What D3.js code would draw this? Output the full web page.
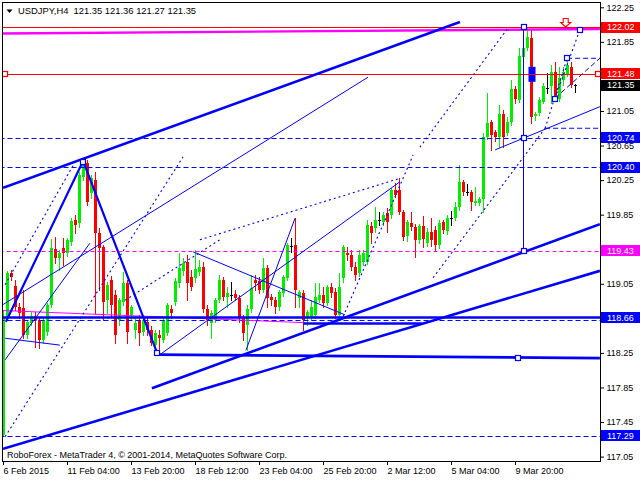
<!DOCTYPE html>
<html><head><meta charset="utf-8">
<script src="https://cdnjs.cloudflare.com/ajax/libs/d3/7.8.5/d3.min.js"></script>
<style>
body{margin:0;background:#fff}
svg{display:block}
text{font-family:"Liberation Sans",Arial,sans-serif}
</style>
</head><body>
<svg id="c" width="640" height="480"></svg>
<script>
// ---------------- DATA ----------------
const symbol = "USDJPY,H4";
const lastQuote = [121.35, 121.36, 121.27, 121.35];
const footerText = "RoboForex - MetaTrader 4, \u00A9 2001-2014, MetaQuotes Software Corp.";
const timeLabels = ["6 Feb 2015","11 Feb 04:00","13 Feb 20:00","18 Feb 12:00","23 Feb 04:00","25 Feb 20:00","2 Mar 12:00","5 Mar 04:00","9 Mar 20:00"];
const timeTickBars = [0,16,32,48,64,80,96,112,128];
const priceTicks = [122.25,121.85,121.45,121.05,120.65,120.25,119.85,119.45,119.05,118.65,118.25,117.85,117.45,117.05];

const opens = [117.30,118.67,119.18,119.02,118.78,118.77,118.46,118.60,118.68,118.63,
118.40,118.49,118.80,119.45,119.35,119.46,119.41,119.53,119.79,119.75,
120.29,120.45,120.10,120.25,119.64,119.48,118.86,119.09,118.92,118.63,
118.84,119.06,118.69,118.52,118.63,118.49,118.61,118.52,118.34,118.46,
118.40,118.48,118.76,118.84,119.06,119.20,119.30,119.13,119.12,119.19,
119.24,118.76,118.60,118.63,118.86,119.09,118.90,118.92,118.93,118.89,
118.65,118.57,118.76,119.09,119.08,118.98,119.23,118.90,118.86,118.78,
118.94,119.12,119.49,119.50,118.89,118.94,118.65,118.67,118.69,118.86,
118.92,118.83,119.01,118.96,118.69,119.12,119.41,119.38,119.24,119.18,
119.30,119.30,119.72,119.70,119.79,119.77,119.87,119.85,120.14,120.14,
119.88,119.60,119.75,119.71,119.56,119.72,119.52,119.65,119.67,119.50,
119.77,119.66,119.81,119.81,119.94,120.23,120.11,120.11,119.98,119.99,
120.03,120.75,120.92,120.81,120.75,121.02,120.80,120.92,121.30,121.18,
121.68,121.78,121.90,120.99,121.03,121.15,121.32,121.34,121.50,121.19,
121.41,121.48,121.56,121.35];
const highs = [118.75,119.20,119.21,119.09,118.83,118.98,118.63,118.72,118.72,118.65,
118.65,118.83,119.57,119.59,119.44,119.58,119.58,119.81,119.85,120.34,
120.49,120.48,120.31,120.34,119.70,119.50,119.07,119.14,118.98,118.89,
119.19,119.09,118.80,118.67,118.69,118.65,118.65,118.56,118.52,118.52,
118.65,118.83,118.80,119.12,119.41,119.35,119.38,119.21,119.44,119.33,
119.30,118.80,118.75,118.89,119.15,119.13,119.01,119.07,118.98,118.92,
118.69,118.80,119.15,119.15,119.13,119.35,119.27,118.93,118.90,118.98,
119.15,119.52,119.58,119.81,118.98,118.98,118.75,118.86,119.06,119.06,
119.01,119.04,119.06,119.00,119.18,119.50,119.48,119.44,119.30,119.44,
119.44,119.79,119.77,119.94,119.88,119.88,119.93,120.16,120.22,120.27,
119.90,119.79,119.88,119.74,119.74,119.83,119.70,119.81,119.72,119.79,
119.79,119.85,119.89,120.00,120.43,120.25,120.20,120.14,120.17,120.05,
120.79,121.26,120.95,120.83,121.12,121.06,120.98,121.41,121.34,121.78,
122.02,121.99,121.99,121.04,121.21,121.37,121.49,121.58,121.62,121.56,
121.56,121.68,121.62,121.36];
const lows = [117.29,118.63,119.09,118.75,118.65,118.42,118.42,118.57,118.32,118.31,
118.37,118.46,118.78,119.29,119.21,119.27,119.37,119.50,119.64,119.71,
120.25,119.96,120.04,118.71,118.98,118.63,118.71,118.67,118.37,118.57,
118.80,118.37,118.63,118.42,118.34,118.46,118.46,118.34,118.25,118.28,
118.38,118.46,118.65,118.80,119.01,119.15,118.86,118.98,119.07,119.15,
118.72,118.57,118.42,118.61,118.84,118.86,118.78,118.86,118.86,118.61,
118.40,118.28,118.72,118.98,118.94,118.96,118.78,118.80,118.71,118.75,
118.91,119.09,119.42,118.78,118.78,118.52,118.57,118.63,118.65,118.84,
118.78,118.80,118.90,118.65,118.65,119.07,119.33,119.21,119.09,119.14,
119.27,119.28,119.52,119.65,119.73,119.73,119.65,119.81,120.05,119.86,
119.56,119.55,119.67,119.36,119.52,119.48,119.49,119.49,119.44,119.46,
119.64,119.63,119.73,119.79,119.90,120.08,120.08,119.90,119.96,119.96,
119.88,120.73,120.60,120.70,120.63,120.63,120.77,120.89,121.14,121.15,
121.64,121.76,120.91,120.95,121.00,121.14,121.26,121.14,121.18,121.16,
121.35,121.45,121.33,121.27];
const closes = [118.66,119.18,119.13,118.78,118.71,118.46,118.61,118.68,118.63,118.40,
118.63,118.80,119.46,119.35,119.41,119.41,119.56,119.78,119.73,120.31,
120.46,120.00,120.27,119.64,119.46,118.84,119.04,118.80,118.46,118.86,
119.06,118.49,118.78,118.60,118.48,118.63,118.52,118.37,118.48,118.42,
118.63,118.80,118.71,119.08,119.23,119.29,119.06,119.01,119.22,119.24,
118.76,118.63,118.71,118.86,119.09,118.90,118.94,118.92,118.89,118.65,
118.48,118.76,119.00,119.06,118.98,119.23,118.89,118.86,118.78,118.96,
119.13,119.50,119.49,118.98,118.96,118.63,118.72,118.78,118.90,118.92,
118.83,119.01,118.94,118.69,119.01,119.48,119.38,119.24,119.15,119.38,
119.41,119.73,119.64,119.79,119.79,119.85,119.77,120.14,120.08,119.88,
119.59,119.77,119.71,119.56,119.72,119.57,119.65,119.56,119.50,119.75,
119.67,119.81,119.81,119.94,120.23,120.11,120.11,120.00,120.01,120.03,
120.75,120.91,120.77,120.75,121.02,120.75,120.92,121.30,121.19,121.69,
121.78,121.91,120.98,121.02,121.18,121.34,121.32,121.50,121.20,121.43,
121.50,121.58,121.35,121.35];

// labelled price levels on the right scale
const boxPrices = [122.02, 121.48, 121.35, 120.74, 120.40, 119.43, 118.66, 117.29];
// full-width horizontal levels
const redLevels = [122.02, 121.48];
const blueDashLevels = [120.74, 120.40, 118.63, 117.29];
const magentaDashLevels = [119.43];
// trend objects as [bar1, price1, bar2, price2]
const thickLines = [
  [-0.1,120.16,114.1,122.08],
  [37.1,117.84,149.1,119.74],
  [-0.1,117.14,149.1,119.20],
  [38.4,118.23,149.1,118.19],
  [74.9,118.59,104.6,118.59],
  [-1,118.66,150,118.66]
];
const zigzag = [[0.6,118.61],[19.9,120.47],[38.4,118.25]];
const thinLines = [
  [-0.1,118.81,91.1,121.44],
  [0.4,118.17,21.6,119.52],
  [0.4,118.42,14.1,118.34],
  [47.4,119.42,85.4,118.69],
  [60.6,118.28,72.9,119.81],
  [39.1,118.23,99.1,120.23],
  [122.9,120.60,149.1,121.10],
  [130,122.02,130,119.43]
];
const dottedLines = [
  [0.4,117.28,44.9,120.52],
  [0.4,119.04,17.9,120.46],
  [30.4,118.86,54.1,119.56],
  [49.1,119.56,99.1,120.27],
  [84.9,118.67,102.4,120.54],
  [104.1,120.63,126.1,122.01],
  [107.4,119.12,135.4,120.85],
  [135.4,120.85,140.9,121.66],
  [137.9,121.20,144.1,121.99]
];
const dashedLines = [
  [137.9,121.20,149.1,121.66],
  [140.9,121.66,150,121.66],
  [135.4,120.85,150,120.85]
];
const magentaThick = [-0.9,121.947,149.1,121.998];
const magentaThin = [-0.1,118.74,75.4,118.60];
const blueSquares = [[19.9,120.46],[38.4,118.25],[130,122.02],[130,120.74],[130,119.43],[137.9,121.19],[140.9,121.66],[144.1,121.99],[128.6,118.19]];
const redSquares = [[0.4,121.48],[148.6,121.48]];
const arrowPoint = [140.55,122.086];
const markerPoint = [132,121.48];

// ---------------- DRAWING ----------------
const svg = d3.select("#c");
const plot = {l:2.5, t:2.5, r:600.5, b:461.5};
const x = d3.scaleLinear().domain([0,143]).range([3.5,575.5]);
const y = d3.scaleLinear().domain([117.05,122.25]).range([456.6,7.3]);
const GREEN="#00ee00", RED="#ff0000", BLUE="#0000ff", MAG="#ff00ff";

svg.append("rect").attr("width",640).attr("height",480).attr("fill","#fff");
svg.append("defs").append("clipPath").attr("id","clip")
  .append("rect").attr("x",3).attr("y",3).attr("width",597).attr("height",458);

const g = svg.append("g").attr("clip-path","url(#clip)");

// candles
const idx = d3.range(opens.length);
const col = i => closes[i]>opens[i]?GREEN:(closes[i]<opens[i]?RED:"#000");
g.append("g").selectAll("line").data(idx).join("line")
  .attr("x1",i=>x(i)).attr("x2",i=>x(i))
  .attr("y1",i=>Math.round(y(highs[i]))).attr("y2",i=>Math.round(y(lows[i]))+1)
  .attr("stroke",col).attr("stroke-width",1).attr("shape-rendering","crispEdges");
g.append("g").selectAll("rect").data(idx).join("rect")
  .attr("x",i=>x(i)-1.5).attr("width",3)
  .attr("y",i=>Math.round(y(Math.max(opens[i],closes[i]))))
  .attr("height",i=>Math.max(1,Math.round(y(Math.min(opens[i],closes[i])))-Math.round(y(Math.max(opens[i],closes[i])))))
  .attr("fill",col).attr("shape-rendering","crispEdges");

// marker block
g.append("rect").attr("x",x(markerPoint[0])-3).attr("y",y(markerPoint[1])-7).attr("width",7).attr("height",15).attr("fill",BLUE);

function seg(sel, d, stroke, w, dash){
  const l = sel.append("line").attr("x1",x(d[0])).attr("y1",y(d[1])).attr("x2",x(d[2])).attr("y2",y(d[3]))
    .attr("stroke",stroke).attr("stroke-width",w);
  if(dash) l.attr("stroke-dasharray",dash);
  return l;
}
function hline(sel, p, stroke, w, dash){
  const yy = Math.round(y(p)) + 0.5;
  const l = sel.append("line").attr("x1",x(-1)).attr("x2",x(150)).attr("y1",yy).attr("y2",yy)
    .attr("stroke",stroke).attr("stroke-width",w);
  if(dash) l.attr("stroke-dasharray",dash);
  return l;
}
// horizontal levels
blueDashLevels.forEach(p=>hline(g,p,BLUE,1,"5,3"));
magentaDashLevels.forEach(p=>hline(g,p,MAG,1,"4,3"));
seg(g,magentaThin,MAG,1);
seg(g,magentaThick,MAG,2.4);
redLevels.forEach(p=>hline(g,p,RED,1));

thickLines.forEach(d=>seg(g,d,BLUE,2.6));
g.append("path").attr("d",d3.line().x(d=>x(d[0])).y(d=>y(d[1]))(zigzag))
  .attr("fill","none").attr("stroke",BLUE).attr("stroke-width",2.2);
thinLines.forEach(d=>seg(g,d,BLUE,1));
dottedLines.forEach(d=>seg(g,d,BLUE,1.1,"2,3"));
dashedLines.forEach(d=>seg(g,d,BLUE,1,"5,3"));

blueSquares.forEach(d=>g.append("rect").attr("x",Math.round(x(d[0]))-2.5).attr("y",Math.round(y(d[1]))-2.5)
  .attr("width",5).attr("height",5).attr("fill","#fff").attr("stroke",BLUE).attr("stroke-width",1.2));
redSquares.forEach(d=>g.append("rect").attr("x",Math.round(x(d[0]))-2.5).attr("y",Math.round(y(d[1]))-2.5)
  .attr("width",5).attr("height",5).attr("fill","#fff").attr("stroke",RED).attr("stroke-width",1.2));

// arrow
{
  const cx=x(arrowPoint[0]), cy=y(arrowPoint[1]);
  g.append("path").attr("d",`M${cx-2.5},${cy-3}H${cx+2.5}V${cy+1}H${cx+5}L${cx},${cy+5.5}L${cx-5},${cy+1}H${cx-2.5}Z`)
   .attr("fill","#fff").attr("stroke",RED).attr("stroke-width",1.1);
}

// frame
svg.append("rect").attr("x",plot.l).attr("y",plot.t).attr("width",plot.r-plot.l).attr("height",plot.b-plot.t)
  .attr("fill","none").attr("stroke","#000").attr("stroke-width",1);

// axes: tick labels that sit under a price box are not shown (as in the terminal)
const visibleTicks = priceTicks.filter(t => boxPrices.every(b => Math.abs(y(t)-y(b)) > 6));
const yAxis = d3.axisRight(y).tickValues(visibleTicks).tickSize(4).tickSizeOuter(0).tickPadding(2.5).tickFormat(d3.format(".2f"));
const ya = svg.append("g").attr("transform",`translate(${plot.r-0.5},0)`).call(yAxis);
ya.select(".domain").remove();
ya.selectAll("text").attr("font-size",9).attr("fill","#000").style("font-family",'"Liberation Sans",Arial,sans-serif');
ya.selectAll("line").attr("stroke","#000");

const xAxis = d3.axisBottom(x).tickValues(timeTickBars).tickFormat((d,i)=>timeLabels[i]).tickSize(4).tickSizeOuter(0).tickPadding(3);
const xa = svg.append("g").attr("transform",`translate(-0.5,${plot.b-0.5})`).call(xAxis);
xa.select(".domain").remove();
xa.selectAll("text").attr("font-size",9).attr("fill","#000").style("text-anchor","start").style("font-family",'"Liberation Sans",Arial,sans-serif');
xa.selectAll("line").attr("stroke","#000");

// price boxes
const boxColors = [RED,RED,"#000",BLUE,BLUE,MAG,BLUE,BLUE];
const bx = svg.append("g");
boxPrices.forEach((p,i)=>{
  const yy = y(p);
  bx.append("rect").attr("x",601).attr("y",Math.round(yy-5.5)).attr("width",39).attr("height",11).attr("fill",boxColors[i]);
  bx.append("text").attr("x",607).attr("y",yy).attr("dy","0.35em").attr("font-size",9).attr("fill","#fff").text(p.toFixed(2));
});

// header
svg.append("path").attr("d","M6.5,9.5H12.5L9.5,13Z").attr("fill","#000");
svg.append("text").attr("x",18).attr("y",14).attr("font-size",9.4).attr("fill","#000")
  .attr("xml:space","preserve").style("white-space","pre")
  .text(symbol+"  "+lastQuote.map(v=>v.toFixed(2)).join(" "));
// footer
svg.append("text").attr("x",7).attr("y",458).attr("font-size",9).attr("fill","#000").text(footerText);
</script>
</body></html>
